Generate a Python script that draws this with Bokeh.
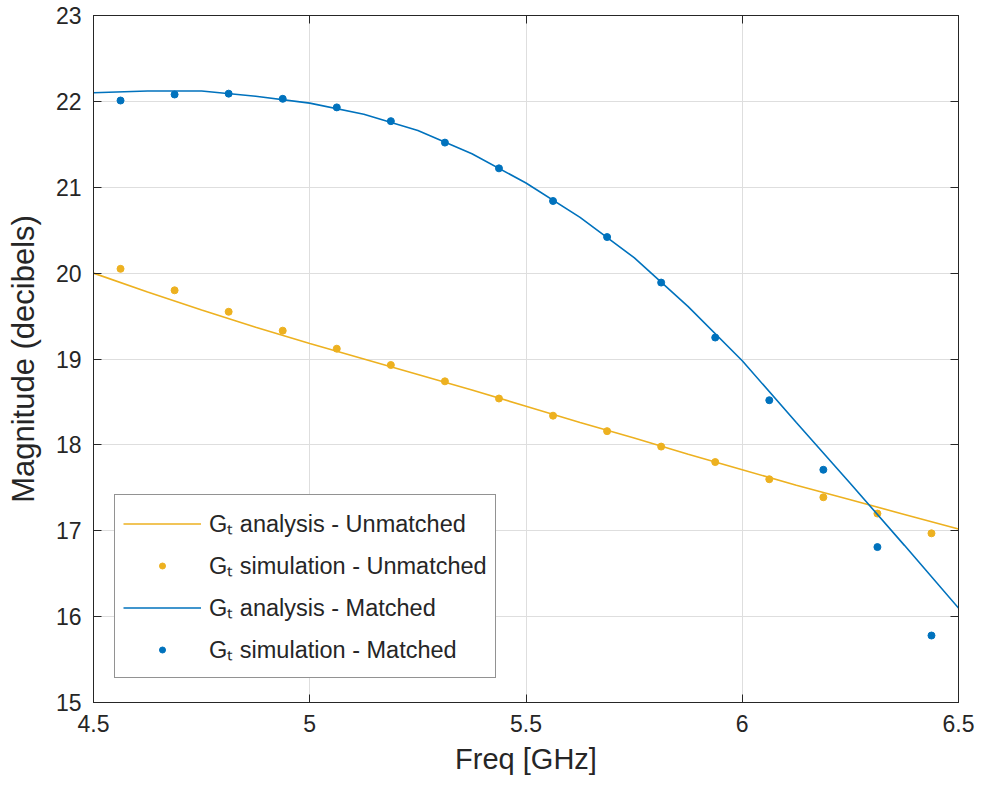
from bokeh.plotting import figure
from bokeh.models import (Range1d, LinearAxis, FixedTicker, Legend, LegendItem)
from bokeh.embed import file_html
from bokeh.resources import INLINE

# ---- data ----
freq_analysis = [4.5, 4.625, 4.75, 4.875, 5.0, 5.125, 5.25, 5.375, 5.5,
                 5.625, 5.75, 5.875, 6.0, 6.125, 6.25, 6.375, 6.5]
gt_analysis_unmatched = [20.00, 19.78, 19.57, 19.37, 19.18, 19.00, 18.82, 18.64, 18.45,
                         18.26, 18.08, 17.89, 17.71, 17.53, 17.36, 17.19, 17.02]
gt_analysis_matched = [22.10, 22.12, 22.12, 22.06, 21.98, 21.85, 21.66, 21.39, 21.05,
                       20.65, 20.18, 19.61, 18.98, 18.26, 17.55, 16.83, 16.10]

freq_sim = [4.5625, 4.6875, 4.8125, 4.9375, 5.0625, 5.1875, 5.3125, 5.4375,
            5.5625, 5.6875, 5.8125, 5.9375, 6.0625, 6.1875, 6.3125, 6.4375]
gt_sim_unmatched = [20.05, 19.80, 19.55, 19.33, 19.12, 18.93, 18.74, 18.54,
                    18.34, 18.16, 17.98, 17.80, 17.60, 17.39, 17.20, 16.97]
gt_sim_matched = [22.01, 22.08, 22.09, 22.03, 21.93, 21.77, 21.52, 21.22,
                  20.84, 20.42, 19.89, 19.25, 18.52, 17.71, 16.81, 15.78]

x_ticks = [4.5, 5, 5.5, 6, 6.5]
y_ticks = [15, 16, 17, 18, 19, 20, 21, 22, 23]

legend_labels = ["G\u209c analysis - Unmatched", "G\u209c simulation - Unmatched",
                 "G\u209c analysis - Matched", "G\u209c simulation - Matched"]

ORANGE = "#EDB120"
BLUE = "#0072BD"
DARK = "#262626"
FONT = "Liberation Sans"

p = figure(width=976, height=783, output_backend="svg", toolbar_location=None,
           x_range=Range1d(4.5, 6.5), y_range=Range1d(15, 23),
           min_border_left=93, min_border_right=18, min_border_top=15, min_border_bottom=81)

p.outline_line_color = DARK
p.outline_line_alpha = 1.0
p.background_fill_color = "white"

for ax in (p.xaxis[0], p.yaxis[0]):
    ax.axis_line_color = DARK
    ax.major_tick_line_color = DARK
    ax.major_tick_in = 8
    ax.major_tick_out = 0
    ax.minor_tick_line_color = None
    ax.major_label_text_font = FONT
    ax.major_label_text_color = DARK
    ax.major_label_text_font_size = "23px"
    ax.axis_label_text_font = FONT
    ax.axis_label_text_color = DARK
    ax.axis_label_text_font_style = "normal"

p.xaxis[0].ticker = FixedTicker(ticks=x_ticks)
p.yaxis[0].ticker = FixedTicker(ticks=y_ticks)
p.xaxis[0].axis_label = "Freq [GHz]"
p.yaxis[0].axis_label = "Magnitude (decibels)"
p.xaxis[0].axis_label_text_font_size = "29px"
p.yaxis[0].axis_label_text_font_size = "31px"
p.xaxis[0].major_label_standoff = 12
p.yaxis[0].major_label_standoff = 12
p.xaxis[0].axis_label_standoff = 8
p.yaxis[0].axis_label_standoff = 12

# mirrored axes (box on)
for loc, ticks in (("right", y_ticks), ("above", x_ticks)):
    ax = LinearAxis(ticker=FixedTicker(ticks=ticks))
    ax.axis_line_color = DARK
    ax.major_tick_line_color = DARK
    ax.major_tick_in = 8
    ax.major_tick_out = 0
    ax.minor_tick_line_color = None
    ax.major_label_overrides = {t: "" for t in ticks}
    ax.major_label_standoff = 0
    p.add_layout(ax, loc)

p.grid.grid_line_color = "#dedede"
p.grid.grid_line_alpha = 1.0
p.xgrid.ticker = FixedTicker(ticks=x_ticks)
p.ygrid.ticker = FixedTicker(ticks=y_ticks)

r1 = p.line(freq_analysis, gt_analysis_unmatched, line_color=ORANGE, line_width=1.6)
r2 = p.scatter(freq_sim, gt_sim_unmatched, size=7, fill_color=ORANGE, line_color=ORANGE)
r3 = p.line(freq_analysis, gt_analysis_matched, line_color=BLUE, line_width=1.6)
r4 = p.scatter(freq_sim, gt_sim_matched, size=7, fill_color=BLUE, line_color=BLUE)

legend = Legend(items=[LegendItem(label=lab, renderers=[r]) for lab, r in
                       zip(legend_labels, [r1, r2, r3, r4])],
                location=(21, 24))
legend.label_text_font = FONT
legend.label_text_font_size = "23.5px"
legend.label_text_color = DARK
legend.glyph_width = 78
legend.glyph_height = 15
legend.label_height = 40
legend.label_standoff = 8
legend.spacing = 2
legend.padding = 8
legend.margin = 0
legend.border_line_color = DARK
legend.border_line_width = 1.5
legend.background_fill_alpha = 1.0
p.add_layout(legend, "center")

open("out.html", "w").write(file_html(p, INLINE))
